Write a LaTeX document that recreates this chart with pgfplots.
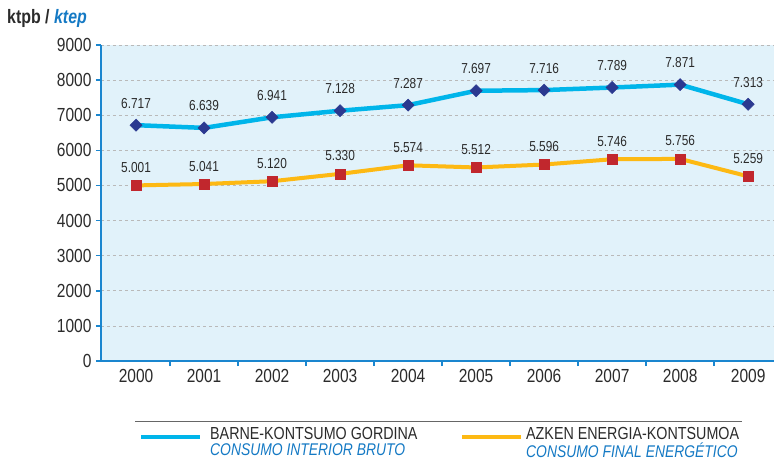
\documentclass[border=0pt]{standalone}
\usepackage{pgfplots}
\pgfplotsset{compat=1.18}
\usepackage{fontspec}
\setmainfont{Liberation Sans}[FakeStretch=0.82]
\definecolor{cyanline}{HTML}{00B5EA}
\definecolor{navy}{HTML}{2B3990}
\definecolor{orangeline}{HTML}{FDB913}
\definecolor{redmark}{HTML}{C1272D}
\definecolor{bgblue}{HTML}{E1F2FA}
\definecolor{axisblue}{HTML}{1A86CF}
\definecolor{textgray}{HTML}{2B2B2B}
\definecolor{titleblue}{HTML}{1479C4}
\begin{document}
\begin{tikzpicture}
\path[use as bounding box] (-101bp,-100bp) rectangle (673bp,361bp);
\begin{axis}[
  at={(0bp,0bp)}, anchor=south west,
  scale only axis, width=673bp, height=316bp,
  xmin=-0.515, xmax=9.38, ymin=0, ymax=9000,
  clip=false,
  axis x line*=bottom, axis y line*=left,
  axis line style={draw=axisblue, line width=1.6bp},
  axis background/.style={fill=bgblue},
  xtick={0,...,9},
  xticklabels={2000,2001,2002,2003,2004,2005,2006,2007,2008,2009},
  minor x tick num=1,
  major x tick style={draw=none},
  minor x tick style={draw=axisblue, line width=1.6bp},
  minor tick length=5bp, major tick length=5bp,
  ytick={0,1000,...,9000},
  major y tick style={draw=axisblue, line width=1.6bp},
  tick align=outside,
  ymajorgrids,
  grid style={dashed, dash pattern=on 3bp off 3bp, draw=gray!55, line width=0.6bp},
  /pgf/number format/assume math mode=true,
  /pgf/number format/set thousands separator={},
  tick label style={font=\fontsize{19}{21}\selectfont, text=textgray},
  yticklabel style={xshift=-1bp},
  nodes near coords,
  point meta=explicit symbolic,
]
\addplot[cyanline, line width=4.5bp, mark=square*, mark size=4.3bp,
  mark options={fill=navy, draw=navy, rotate=45, line width=0.5bp},
  nodes near coords style={anchor=base, yshift=17bp, font=\fontsize{14.5}{16}\selectfont, text=textgray}]
coordinates {
(0,6717) [6.717] (1,6639) [6.639] (2,6941) [6.941] (3,7128) [7.128] (4,7287) [7.287]
(5,7697) [7.697] (6,7716) [7.716] (7,7789) [7.789] (8,7871) [7.871] (9,7313) [7.313]
};
\addplot[orangeline, line width=4bp, mark=square*, mark size=5bp,
  mark options={fill=redmark, draw=redmark, line width=0.5bp},
  nodes near coords style={anchor=base, yshift=13bp, font=\fontsize{14.5}{16}\selectfont, text=textgray}]
coordinates {
(0,5001) [5.001] (1,5041) [5.041] (2,5120) [5.120] (3,5330) [5.330] (4,5574) [5.574]
(5,5512) [5.512] (6,5596) [5.596] (7,5746) [5.746] (8,5756) [5.756] (9,5259) [5.259]
};
\end{axis}
% title
\node[anchor=west, inner sep=0pt, font=\fontsize{19.5}{21}\selectfont\bfseries, text=textgray]
  at (-94bp,343bp) {ktpb / \textcolor{titleblue}{\itshape ktep}};
% legend
\draw[gray!80!black, line width=0.8bp] (34bp,-60bp) -- (641bp,-60bp);
\draw[cyanline, line width=4.5bp] (40bp,-76bp) -- (99bp,-76bp);
\draw[orangeline, line width=4.5bp] (361bp,-76bp) -- (420bp,-76bp);
\node[anchor=west, inner sep=0pt, font=\fontsize{17.5}{19}\selectfont, text=textgray]
  at (109bp,-72bp) {BARNE-KONTSUMO GORDINA};
\node[anchor=west, inner sep=0pt, font=\fontsize{17}{19}\selectfont\itshape, text=titleblue]
  at (109bp,-89bp) {CONSUMO INTERIOR BRUTO};
\node[anchor=west, inner sep=0pt, font=\fontsize{17.5}{19}\selectfont, text=textgray]
  at (425bp,-72bp) {AZKEN ENERGIA-KONTSUMOA};
\node[anchor=west, inner sep=0pt, font=\fontsize{17}{19}\selectfont\itshape, text=titleblue]
  at (425bp,-89bp) {CONSUMO FINAL ENERGÉTICO};
\end{tikzpicture}
\end{document}
